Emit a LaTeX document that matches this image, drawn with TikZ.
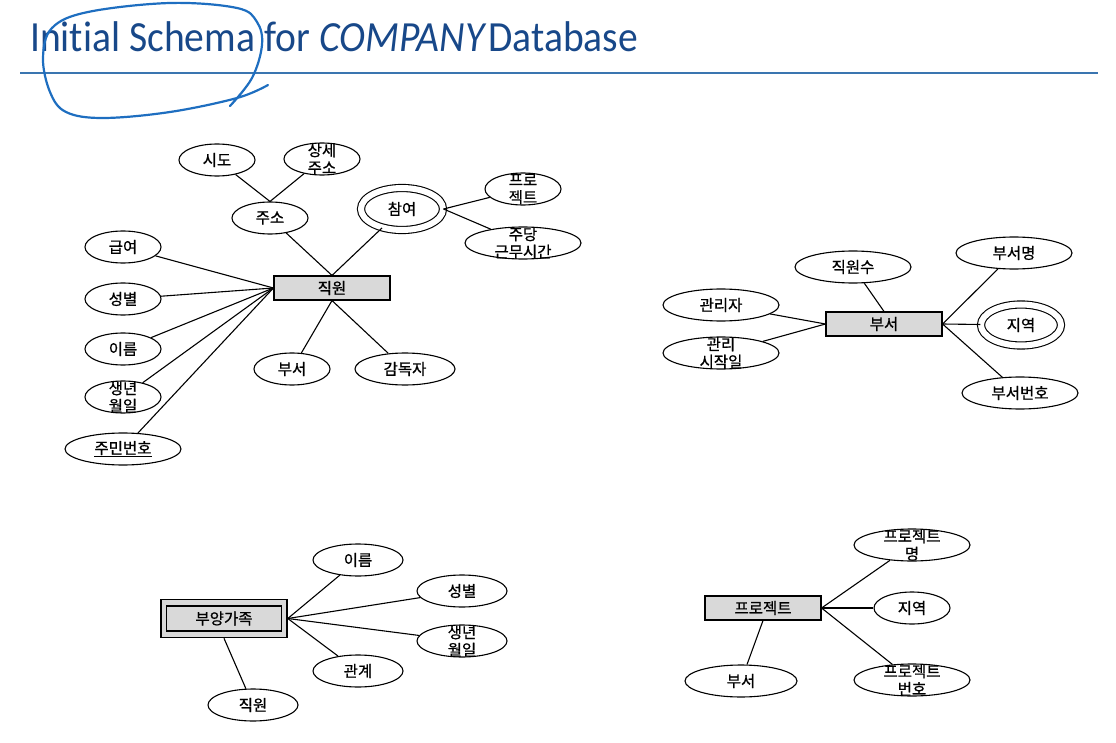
\documentclass[tikz,border=0pt]{standalone}
\usepackage{fontspec}
\usetikzlibrary{shapes.geometric}
\newfontfamily\krfont[FakeBold=0.8]{Noto Sans CJK KR}
\newfontfamily\titlefont[Ligatures=NoCommon]{Carlito}
\definecolor{titleblue}{HTML}{184889}
\definecolor{rulecol}{HTML}{3A75B0}
\definecolor{penblue}{HTML}{1E6EC0}
\definecolor{boxgray}{HTML}{D9D9D9}
\tikzset{
  krf/.style={font=\krfont\fontsize{15.5}{17.5}\selectfont},
  attr/.style={ellipse, draw, line width=1.1pt, minimum width=76pt, minimum height=32pt, inner sep=0pt, krf},
  wattr/.style={attr, minimum width=116pt},
  mattr/.style={attr, minimum width=90pt},
  multi/.style={attr, double, double distance=6pt, minimum width=82pt, minimum height=42pt},
  ent/.style={draw, line width=1.1pt, fill=boxgray, minimum width=116pt, minimum height=24pt, inner sep=0pt, krf},
  lbl/.style={align=center, inner sep=0pt, krf},
  conn/.style={line width=1.1pt},
  hand/.style={penblue, line width=2.2pt, line cap=round, line join=round}
}
\begin{document}
\begin{tikzpicture}[x=1pt, y=-1pt]
\useasboundingbox (0,0) rectangle (1116,743);
% title
\node[anchor=base west, inner sep=0pt, text=titleblue, font=\titlefont\fontsize{43}{50}\selectfont] (title) at (30,52) {\scalebox{0.92}[1]{Initial Schema for \textit{COMPANY}\kern2pt Database}};
\draw[rulecol, line width=1.4pt] (20,73) -- (1098,73);
\draw[hand] plot[smooth, tension=0.6] coordinates {(268,85) (237,98) (170,112) (103,118) (66,112) (50,92) (43,58) (52,28) (88,12) (170,3) (237,8) (257,22) (262,45) (252,78) (230,106)};

% EMPLOYEE
\node[ent] (emp) at (332,288) {직원};
\node[attr] (sido) at (217,160) {시도};
\node[attr, label={[lbl]center:상세\\주소}] (sangse) at (322,159) {};
\node[attr] (juso) at (270,218) {주소};
\node[multi] (chamyeo) at (402,209) {참여};
\node[attr, label={[lbl]center:프로\\젝트}] (proj1) at (523,189) {};
\node[wattr, label={[lbl]center:주당\\근무시간}] (hours) at (523,243) {};
\node[attr] (salary) at (123,247) {급여};
\node[attr] (sex) at (123,299) {성별};
\node[attr] (name) at (123,349) {이름};
\node[attr, label={[lbl]center:생년\\월일}] (bdate) at (123,397) {};
\node[wattr] (ssn) at (123,449) {\underline{주민번호}};
\node[attr] (edept) at (292,369) {부서};
\node[wattr, minimum width=100pt] (super) at (405,369) {감독자};

\draw[conn] (sido) -- (juso.north);
\draw[conn] (sangse) -- (juso.north);
\draw[conn] (juso) -- (emp.north);
\draw[conn] (chamyeo) -- (emp.north);
\draw[conn] (chamyeo.east) -- (proj1);
\draw[conn] (chamyeo.east) -- (hours);
\draw[conn] (salary) -- (emp.west);
\draw[conn] (sex) -- (emp.west);
\draw[conn] (name) -- (emp.west);
\draw[conn] (bdate) -- (emp.west);
\draw[conn] (ssn) -- (emp.west);
\draw[conn] (emp.south) -- (edept);
\draw[conn] (emp.south) -- (super);

% DEPARTMENT
\node[ent] (dept) at (884,324) {부서};
\node[wattr] (numemp) at (853,267) {직원수};
\node[wattr] (mgr) at (721,305) {관리자};
\node[wattr, label={[lbl]center:관리\\시작일}] (mgrdate) at (721,353) {};
\node[wattr] (dname) at (1014,253) {부서명};
\node[multi, minimum width=80pt, minimum height=41pt] (dloc) at (1021,325) {지역};
\node[wattr] (dnum) at (1020,393) {부서번호};

\draw[conn] (numemp) -- (dept.north);
\draw[conn] (mgr) -- (dept.west);
\draw[conn] (mgrdate) -- (dept.west);
\draw[conn] (dept.east) -- (dname);
\draw[conn] (dept.east) -- (dloc);
\draw[conn] (dept.east) -- (dnum);

% DEPENDENT
\node[draw, line width=1.6pt, fill=boxgray, minimum width=126pt, minimum height=38pt, inner sep=0pt] (depo) at (224,618.5) {};
\node[ent, minimum width=115pt, minimum height=25pt] (dep) at (224,618.5) {부양가족};
\node[mattr] (dname2) at (358,560) {이름};
\node[mattr] (dsex) at (462,591) {성별};
\node[mattr, label={[lbl]center:생년\\월일}] (dbdate) at (462,641) {};
\node[mattr] (drel) at (358,671) {관계};
\node[mattr] (demp) at (253,705) {직원};

\draw[conn] (depo.east) -- (dname2);
\draw[conn] (depo.east) -- (dsex);
\draw[conn] (depo.east) -- (dbdate);
\draw[conn] (depo.east) -- (drel);
\draw[conn] (depo.south) -- (demp);

% PROJECT
\node[ent] (prj) at (763,608) {프로젝트};
\node[wattr, label={[lbl]center:프로젝트\\명}] (pname) at (912,545) {};
\node[attr] (ploc) at (912,608) {지역};
\node[wattr, label={[lbl]center:프로젝트\\번호}] (pnum) at (912,680) {};
\node[wattr, minimum width=112pt] (pdept) at (741,681) {부서};

\draw[conn] (prj.east) -- (pname);
\draw[conn] (prj.east) -- (ploc);
\draw[conn] (prj.east) -- (pnum);
\draw[conn] (prj.south) -- (pdept);
\end{tikzpicture}
\end{document}
